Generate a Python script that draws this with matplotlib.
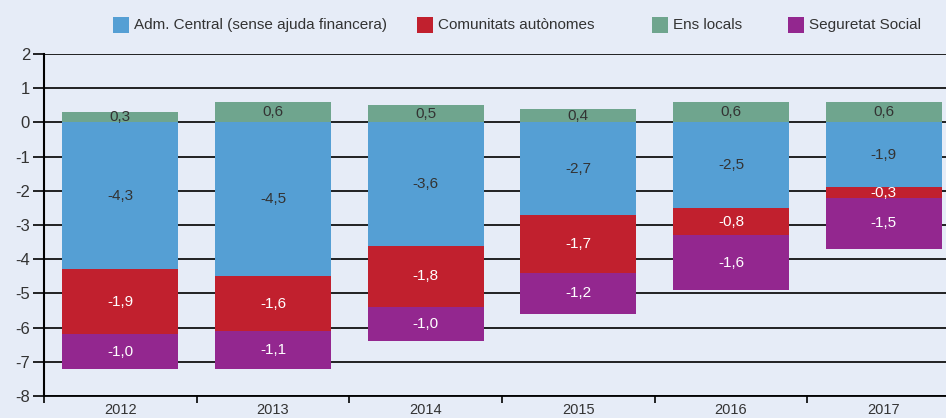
import numpy as np
import matplotlib
matplotlib.use('Agg')
import matplotlib.pyplot as plt
from matplotlib.patches import Rectangle

plt.rcParams['font.family'] = ['Liberation Sans', 'DejaVu Sans']

years = ['2012', '2013', '2014', '2015', '2016', '2017']
admCentral = [-4.3, -4.5, -3.6, -2.7, -2.5, -1.9]
ccaa = [-1.9, -1.6, -1.8, -1.7, -0.8, -0.3]
segSocial = [-1.0, -1.1, -1.0, -1.2, -1.6, -1.5]
ensLocals = [0.3, 0.6, 0.5, 0.4, 0.6, 0.6]

names = ['Adm. Central (sense ajuda financera)', 'Comunitats autònomes',
         'Ens locals', 'Seguretat Social']
colors = ['#559fd4', '#c1202e', '#6fa58e', '#93278f']
bg = '#e6ecf7'

W, H = 946, 418
fig = plt.figure(figsize=(W / 100, H / 100), dpi=100, facecolor=bg)
ax = fig.add_axes([44 / W, 22 / H, 916 / W, 342 / H], facecolor=bg)

x = np.arange(len(years))
bw = 0.76

for v in range(-8, 3):
    ax.axhline(v, color='#111111', lw=1.3, zorder=1)

bottom = np.zeros(len(years))
# negative stack: adm, ccaa, ss
for vals, col in [(admCentral, colors[0]), (ccaa, colors[1]), (segSocial, colors[3])]:
    vals = np.array(vals)
    ax.bar(x, vals, bw, bottom=bottom, color=col, zorder=2)
    txtcol = '#333333' if col == colors[0] else 'white'
    for xi, b, v in zip(x, bottom, vals):
        ax.text(xi, b + v / 2, f'{v:.1f}'.replace('.', ','), ha='center', va='center',
                color=txtcol, fontsize=11, zorder=3)
    bottom = bottom + vals

ax.bar(x, ensLocals, bw, color=colors[2], zorder=2)
for xi, v in zip(x, ensLocals):
    ax.text(xi, v / 2, f'{v:.1f}'.replace('.', ','), ha='center', va='center',
            color='#333333', fontsize=11, zorder=3)

ax.set_xlim(-0.5, len(years) - 0.5)
ax.set_ylim(-8, 2)
ax.set_yticks(range(-8, 3))
ax.set_yticklabels([str(v) for v in range(-8, 3)])
ax.set_xticks(np.arange(-0.5, len(years), 1.0))
ax.set_xticklabels([])
ax.set_xticks(x, minor=True)
ax.set_xticklabels(years, minor=True)
ax.tick_params(axis='x', which='minor', length=0, pad=5, labelsize=10.5, labelcolor='#333333')
ax.tick_params(axis='x', which='major', length=5, width=1.2, direction='out')
ax.tick_params(axis='y', length=8, width=1.2, direction='out', pad=2, labelsize=12,
               labelcolor='#333333')
for s in ['top', 'right']:
    ax.spines[s].set_visible(False)
ax.spines['left'].set_linewidth(1.5)
ax.spines['bottom'].set_linewidth(1.3)

# legend drawn by hand to match the original spacing
legX = [113, 417, 652, 788]
for lx, name, col in zip(legX, names, colors):
    fig.patches.append(Rectangle((lx / W, 1 - 33 / H), 16 / W, 16 / H,
                                 transform=fig.transFigure, facecolor=col,
                                 edgecolor='none'))
    fig.text((lx + 21) / W, 1 - 25 / H, name, ha='left', va='center',
             fontsize=11, color='#333333')

fig.savefig('out.png', dpi=100, facecolor=bg)
